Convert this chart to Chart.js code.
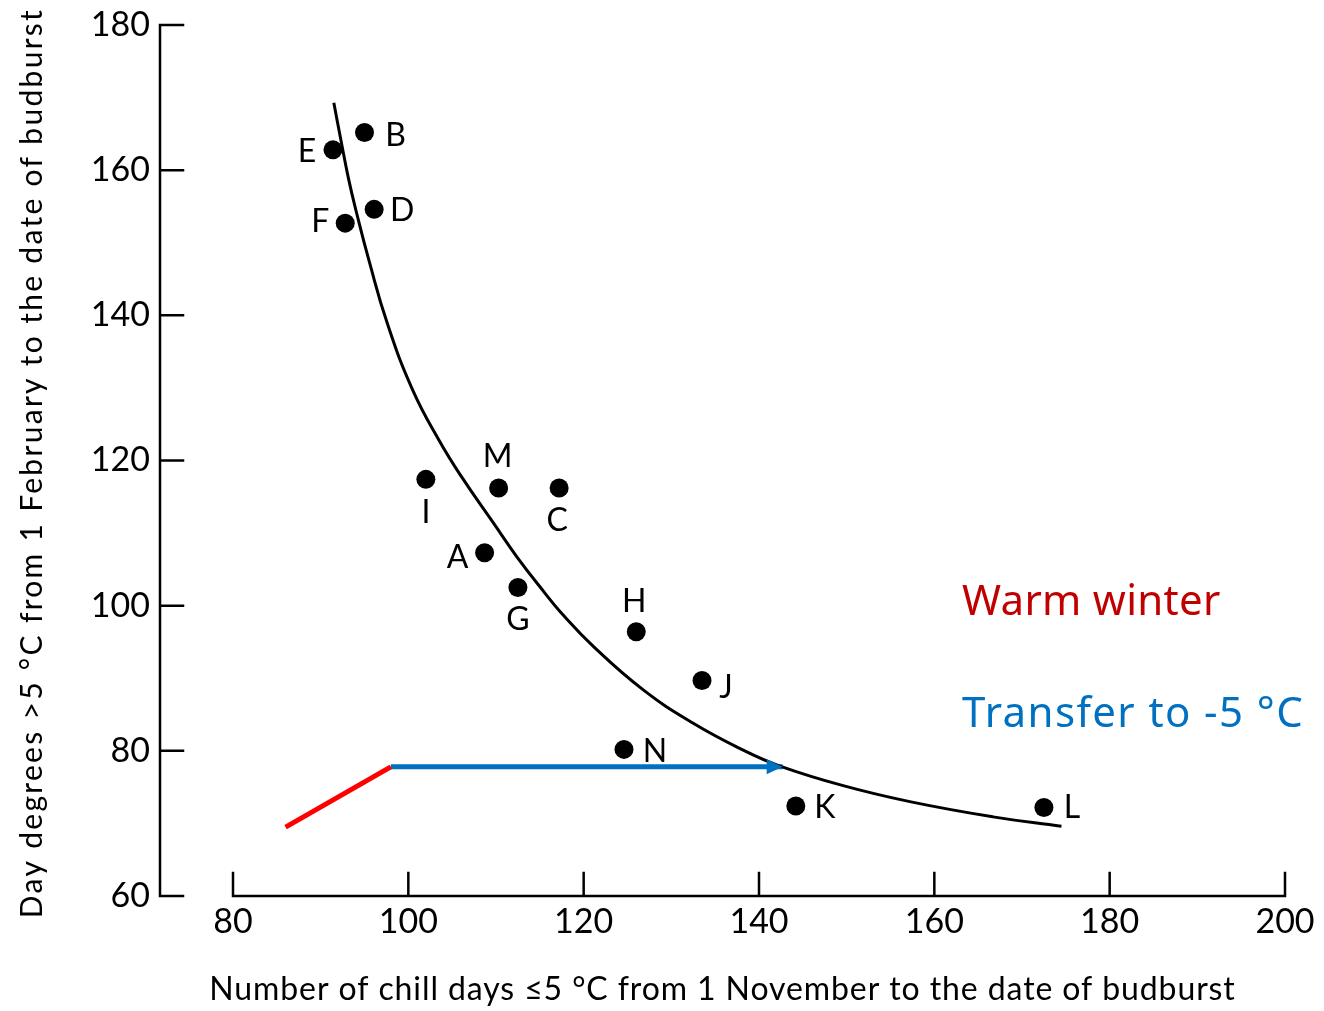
<!DOCTYPE html>
<html>
<head>
<meta charset="utf-8">
<title>Chill days and budburst</title>
<script src="https://cdn.jsdelivr.net/npm/chart.js@4.4.1/dist/chart.umd.min.js"></script>
<style>
  html, body { margin: 0; padding: 0; background: #fff; }
  #wrap { width: 1324px; height: 1011px; }
</style>
</head>
<body>
<div id="wrap"><canvas id="budburstChart" width="1324" height="1011"></canvas></div>
<script>
// Sites: chill days <= 5 °C and day degrees > 5 °C to budburst
const siteNames  = ['A', 'B', 'C', 'D', 'E', 'F', 'G', 'H', 'I', 'J', 'K', 'L', 'M', 'N'];
const chillDays  = [108.7, 95.0, 117.2, 96.1, 91.4, 92.8, 112.5, 126.0, 102.0, 133.5, 144.2, 172.5, 110.3, 124.6];
const dayDegrees = [107.3, 165.2, 116.2, 154.6, 162.8, 152.7, 102.5, 96.4, 117.4, 89.7, 72.4, 72.2, 116.2, 80.2];

// Fitted curve, read along its length
const curveChill   = [91.5, 92.3, 93.2, 94.1, 95.5, 97.6, 100.5, 103.5, 106.1, 109.7, 112.4, 115.6, 117.3, 121.1, 126.8, 132.5, 138.2, 142.4, 149.6, 157.2, 166.7, 174.5];
const curveDegrees = [169.3, 164.2, 158.7, 154.1, 147.6, 138.9, 129.7, 122.8, 117.7, 111.4, 106.7, 101.7, 99.2, 94.4, 88.4, 83.8, 80.1, 77.9, 75.2, 73.0, 70.9, 69.6];

// Warm winter run, then transfer to -5 °C
const warmChill       = [86.0, 98.0];
const warmDegrees     = [69.5, 77.8];
const transferChill   = [98.0, 142.7];
const transferDegrees = [77.8, 77.8];

const xTicks = [80, 100, 120, 140, 160, 180, 200];
const yTicks = [60, 80, 100, 120, 140, 160, 180];

const xTitle = 'Number of chill days \u22645 \u00B0C from 1 November to the date of budburst';
const yTitle = 'Day degrees >5 \u00B0C from 1 February to the date of budburst';

const FONT = "'Lato', 'Liberation Sans', sans-serif";
const NOTE_FONT = "'Comic Sans MS', 'Noto Sans', sans-serif";

const toPoints = (xs, ys) => xs.map((x, i) => ({ x: x, y: ys[i] }));

// where each site letter sits relative to its dot (px)
const labelOffset = {
    A: [-27, 5], B: [31, 3], C: [-2, 33], D: [28, 1], E: [-26, 2], F: [-25, -1], G: [0, 32],
    H: [-2, -30], I: [0, 33], J: [24, 7], K: [29, 2], L: [28, 0], M: [-1, -31], N: [31, 2]
};

// axes drawn by hand: detached y axis, ticks pointing inward
const framePlugin = {
    id: 'frame',
    afterDraw(chart) {
        const ctx = chart.ctx;
        const xs = chart.scales.x, ys = chart.scales.y;
        const area = chart.chartArea;
        const yAxisX = area.left - 73;
        const tickLen = 23;

        ctx.save();
        ctx.strokeStyle = '#000';
        ctx.lineWidth = 2.5;
        ctx.lineCap = 'square';

        // y axis
        ctx.beginPath();
        ctx.moveTo(yAxisX, ys.getPixelForValue(yTicks[yTicks.length - 1]));
        ctx.lineTo(yAxisX, ys.getPixelForValue(yTicks[0]));
        yTicks.forEach(v => {
            const py = ys.getPixelForValue(v);
            ctx.moveTo(yAxisX, py);
            ctx.lineTo(yAxisX + tickLen, py);
        });
        // x axis
        const baseY = ys.getPixelForValue(yTicks[0]);
        ctx.moveTo(xs.getPixelForValue(xTicks[0]), baseY);
        ctx.lineTo(xs.getPixelForValue(xTicks[xTicks.length - 1]), baseY);
        xTicks.forEach(v => {
            const px = xs.getPixelForValue(v);
            ctx.moveTo(px, baseY);
            ctx.lineTo(px, baseY - tickLen);
        });
        ctx.stroke();

        // axis titles
        ctx.fillStyle = '#000';
        ctx.font = '32px ' + FONT;
        ctx.letterSpacing = '0.9px';
        ctx.textAlign = 'center';
        ctx.textBaseline = 'alphabetic';
        ctx.fillText(xTitle, (yAxisX + area.right) / 2, 1000);

        ctx.save();
        ctx.translate(42, 463);
        ctx.rotate(-Math.PI / 2);
        ctx.font = '30px ' + FONT;
        ctx.letterSpacing = '2.3px';
        ctx.fillText(yTitle, 0, 0);
        ctx.restore();

        // site letters
        const dots = chart.getDatasetMeta(0).data;
        ctx.font = '32px ' + FONT;
        ctx.letterSpacing = '0px';
        ctx.textBaseline = 'middle';
        dots.forEach((pt, i) => {
            const name = siteNames[i];
            const off = labelOffset[name] || [28, 0];
            ctx.fillText(name, pt.x + off[0], pt.y + off[1]);
        });

        // arrow head on the transfer line
        const tr = chart.getDatasetMeta(3).data;
        const tip = tr[tr.length - 1], from = tr[tr.length - 2];
        const ang = Math.atan2(tip.y - from.y, tip.x - from.x);
        ctx.save();
        ctx.translate(tip.x, tip.y);
        ctx.rotate(ang);
        ctx.fillStyle = '#0070c0';
        ctx.beginPath();
        ctx.moveTo(0, 0);
        ctx.lineTo(-16, -7.5);
        ctx.lineTo(-16, 7.5);
        ctx.closePath();
        ctx.fill();
        ctx.restore();

        // notes
        ctx.textAlign = 'left';
        ctx.textBaseline = 'alphabetic';
        ctx.font = '42px ' + NOTE_FONT;
        ctx.fillStyle = '#c00000';
        ctx.letterSpacing = '0.3px';
        ctx.fillText('Warm winter', 962, 615);
        ctx.fillStyle = '#0070c0';
        ctx.letterSpacing = '1.4px';
        ctx.fillText('Transfer to -5 \u00B0C', 962, 727);

        ctx.restore();
    }
};

function initializeChart() {
    const ctx = document.getElementById('budburstChart').getContext('2d');
    new Chart(ctx, {
        type: 'scatter',
        data: {
            datasets: [
                {
                    label: 'Sites',
                    data: toPoints(chillDays, dayDegrees),
                    backgroundColor: '#000',
                    borderWidth: 0,
                    pointRadius: 9.5,
                    order: 1
                },
                {
                    label: 'Fitted curve',
                    data: toPoints(curveChill, curveDegrees),
                    showLine: true,
                    borderColor: '#000',
                    borderWidth: 3,
                    pointRadius: 0,
                    tension: 0.45,
                    order: 2
                },
                {
                    label: 'Warm winter',
                    data: toPoints(warmChill, warmDegrees),
                    showLine: true,
                    borderColor: '#ff0000',
                    borderWidth: 5,
                    pointRadius: 0,
                    order: 3
                },
                {
                    label: 'Transfer to -5 \u00B0C',
                    data: toPoints(transferChill, transferDegrees),
                    showLine: true,
                    borderColor: '#0070c0',
                    borderWidth: 5,
                    pointRadius: 0,
                    order: 3
                }
            ]
        },
        options: {
            responsive: false,
            animation: false,
            devicePixelRatio: 1,
            layout: { padding: { left: 0, right: 39, top: 25, bottom: 0 } },
            plugins: {
                legend: { display: false },
                tooltip: { enabled: false }
            },
            scales: {
                x: {
                    type: 'linear',
                    min: 80,
                    max: 200,
                    grid: { display: false, drawTicks: false },
                    border: { display: false },
                    afterBuildTicks: scale => { scale.ticks = xTicks.map(v => ({ value: v })); },
                    afterFit: scale => {
                        scale.height = 115;
                        scale.paddingLeft = 0;
                        scale.paddingRight = 0;
                    },
                    ticks: {
                        color: '#000',
                        padding: 6,
                        maxRotation: 0,
                        font: { family: FONT, size: 34 }
                    }
                },
                y: {
                    type: 'linear',
                    min: 60,
                    max: 180,
                    grid: { display: false, drawTicks: false },
                    border: { display: false },
                    afterBuildTicks: scale => { scale.ticks = yTicks.map(v => ({ value: v })); },
                    afterFit: scale => {
                        scale.width = 233;
                        scale.paddingTop = 0;
                        scale.paddingBottom = 0;
                    },
                    ticks: {
                        color: '#000',
                        padding: 83,
                        font: { family: FONT, size: 34 }
                    }
                }
            }
        },
        plugins: [framePlugin]
    });
}

document.addEventListener('DOMContentLoaded', initializeChart);
</script>
</body>
</html>
